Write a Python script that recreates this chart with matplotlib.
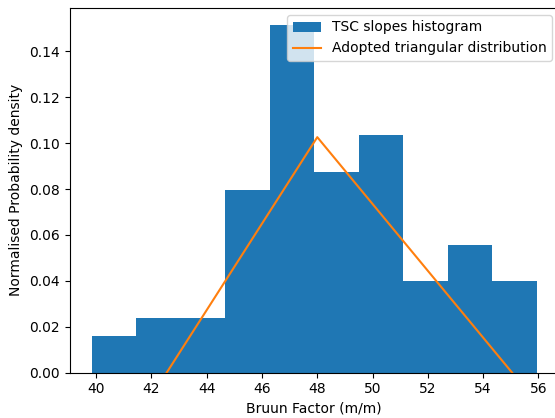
import matplotlib
matplotlib.use("Agg")
import matplotlib.pyplot as plt
import numpy as np

bin_edges = np.linspace(39.84, 55.94, 11)
counts = [2, 3, 3, 10, 19, 11, 13, 5, 7, 5]
tri_x = [42.55, 48.0, 55.05]
tri_y = [0.0, 0.1026, 0.0]

fig = plt.figure(figsize=(5.55, 4.18), dpi=100)
ax = fig.add_axes([69.5/555, 45.3/418, (559-69.5)/555, (410-45.3)/418])
ax.hist(bin_edges[:-1], bins=bin_edges, weights=counts, density=True,
        color="#1f77b4", label="TSC slopes histogram")
ax.plot(tri_x, tri_y, color="#ff7f0e", label="Adopted triangular distribution")
ax.set_xticks(np.arange(40, 57, 2))
ax.set_xlabel("Bruun Factor (m/m)")
ax.set_ylabel("Normalised Probability density")
ax.legend(loc="upper right")
fig.savefig("out.png", dpi=100)
